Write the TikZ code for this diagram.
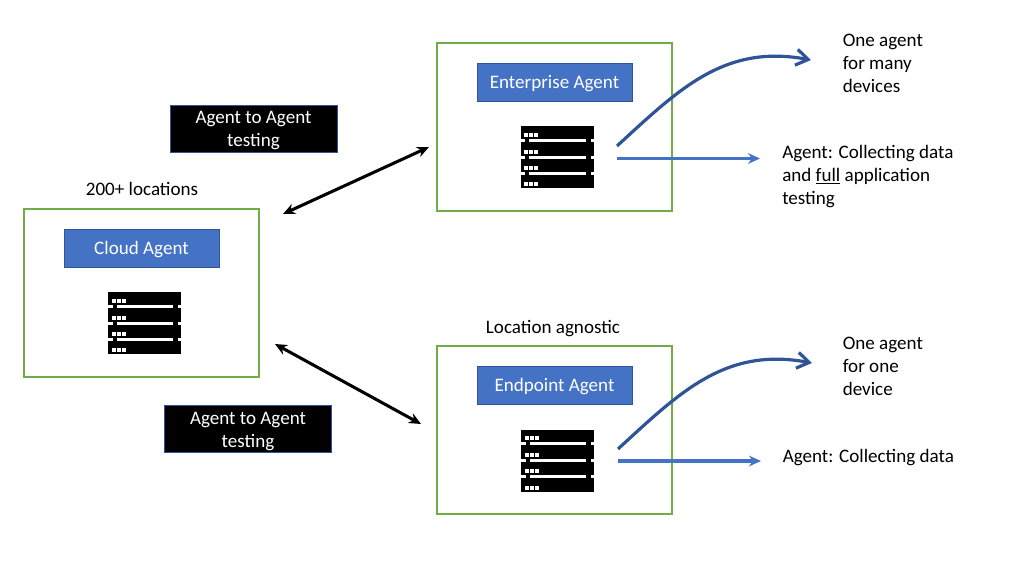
\documentclass[tikz,border=0pt]{standalone}
\usepackage{fontspec}
\usetikzlibrary{arrows.meta}
\setmainfont{Carlito}
\definecolor{agentgreen}{HTML}{70AD47}
\definecolor{agentblue}{HTML}{4472C4}
\definecolor{agentdark}{HTML}{2F5597}
\tikzset{
    sitebox/.style={draw=agentgreen, line width=1.5pt, outer sep=0pt, minimum width=176pt, minimum height=126pt, anchor=north west},
    agentbox/.style={draw=agentdark, fill=agentblue, text=white, line width=0.5pt, outer sep=0pt, minimum width=116pt, minimum height=28.5pt, text height=11pt, text depth=2pt},
    testbox/.style={draw=agentdark, fill=black, text=white, line width=0.5pt, outer sep=0pt, inner ysep=0pt, minimum width=125.5pt, minimum height=35pt, align=center},
    note/.style={align=left, anchor=west, inner sep=0pt},
    server/.pic={
        \fill[black] (0,0) rectangle (73,62);
        \foreach \y in {14,31,47}{
            \fill[white] (0,\y-1.5) rectangle (4.5,\y+1.5);
            \fill[white] (8.5,\y-1.5) rectangle (65,\y+1.5);
            \fill[white] (70,\y-1.5) rectangle (73,\y+1.5);
        }
        \foreach \y in {8.5,25.5,41.5,58}{
            \foreach \x in {3.5,8.5,13.5}{
                \fill[white] (\x,\y-2) rectangle (\x+4,\y+2);
            }
        }
    }
}
\begin{document}
\begin{tikzpicture}[>={Stealth[length=9pt,width=8pt]}, x=0.75pt, y=-0.75pt, font=\fontsize{14.3}{17.25}\selectfont]
    \useasboundingbox (0,0) rectangle (1024,576);

    % green boxes
    \node[sitebox] (enterprise) at (437,42.5) {};
    \node[sitebox] (cloud) at (24,209) {};
    \node[sitebox] (endpoint) at (437,346) {};

    % blue titles
    \node[agentbox] (enterprisetitle) at (554.5,82.5) {Enterprise Agent};
    \node[agentbox] (cloudtitle) at (141.5,248) {Cloud Agent};
    \node[agentbox] (endpointtitle) at (554.5,385) {Endpoint Agent};

    % servers
    \pic at (520.5,126) {server};
    \pic at (108,292) {server};
    \pic at (521,429.5) {server};

    % black labels
    \node[testbox] (testupper) at (253.5,128.5) {\rule{0pt}{12.5pt}Agent to Agent\\testing};
    \node[testbox] (testlower) at (248,429) {\rule{0pt}{12.5pt}Agent to Agent\\testing};

    % texts
    \node (cloudsites) at (142,189) {200+ locations};
    \node (endpointsites) at (553,329) {Location agnostic};
    \node[note] (manydevices) at (842.5,63.5) {One agent\\for many\\devices};
    \node[note] (fulltesting) at (782,176.5) {Agent: Collecting data\\and \underline{full} application\\testing};
    \node[note] (onedevice) at (842.5,366.5) {One agent\\for one\\device};
    \node[note] (collecting) at (782.5,458) {Agent: Collecting data};

    % free ends
    \coordinate (enterprisein) at (429,147);
    \coordinate (cloudout) at (283,214);
    \coordinate (cloudlow) at (275,344);
    \coordinate (endpointin) at (421,424);
    \coordinate (uppercurve) at (617,146);
    \coordinate (upperline) at (617,158.5);
    \coordinate (lowercurve) at (618,449);
    \coordinate (lowerline) at (618,461);
    \coordinate (uppercurveend) at (811,60);
    \coordinate (upperlineend) at (760,158.5);
    \coordinate (lowercurveend) at (812,363);
    \coordinate (lowerlineend) at (761,461);

    % double arrows
    \draw[<->, line width=2.3pt] (cloudout) -- (enterprisein);
    \draw[<->, line width=2.3pt] (cloudlow) -- (endpointin);

    % outgoing arrows
    \draw[-{Straight Barb[length=9pt,width=12pt]}, line width=2.4pt, agentdark] (uppercurve) .. controls (680,88) and (725,44) .. (uppercurveend);
    \draw[-{Straight Barb[length=9pt,width=12pt]}, line width=2.4pt, agentdark] (lowercurve) .. controls (681,391) and (726,347) .. (lowercurveend);
    \draw[->, line width=2.4pt, agentblue] (upperline) -- (upperlineend);
    \draw[->, line width=2.4pt, agentblue] (lowerline) -- (lowerlineend);

\end{tikzpicture}
\end{document}
